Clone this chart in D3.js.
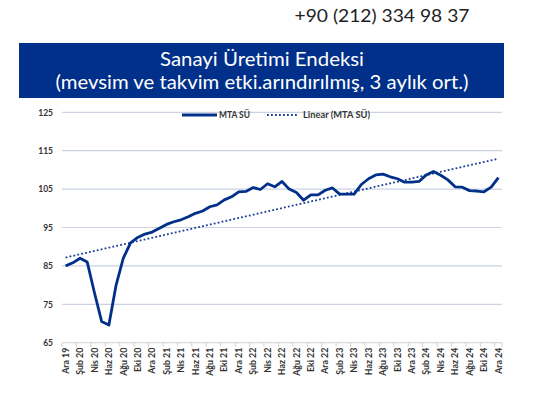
<!DOCTYPE html>
<html><head><meta charset="utf-8">
<script src="https://cdn.jsdelivr.net/npm/d3@7"></script>
<style>body{margin:0;background:#fff}svg{display:block}</style>
</head><body>
<svg id="c" width="535" height="397"></svg>
<script>
const phone = "+90 (212) 334 98 37";
const titleLines = ["Sanayi Üretimi Endeksi", "(mevsim ve takvim etki.arındırılmış, 3 aylık ort.)"];
const months = ["Oca","Şub","Mar","Nis","May","Haz","Tem","Ağu","Eyl","Eki","Kas","Ara"];
// Dec 2019 .. Dec 2024
const categories = [];
categories.push("Ara 19");
for (let y = 20; y <= 24; y++) for (const m of months) categories.push(m + " " + y);
const values = [
  85.0, 85.8, 87.0, 86.0, 78.0, 70.5, 69.6, 80.0, 87.0, 91.0,
  92.4, 93.3, 93.8, 94.8, 95.8, 96.5, 97.0, 97.8, 98.7, 99.3,
  100.4, 100.9, 102.2, 103.0, 104.3, 104.4, 105.4, 104.9, 106.4, 105.6,
  107.0, 105.0, 104.1, 102.1, 103.5, 103.5, 104.7, 105.3, 103.7, 103.7,
  103.7, 106.2, 107.7, 108.7, 108.9, 108.2, 107.7, 106.8, 106.8, 107.0,
  108.7, 109.6, 108.6, 107.4, 105.6, 105.5, 104.6, 104.5, 104.3, 105.5, 108.0
];
const yTicks = [65, 75, 85, 95, 105, 115, 125];
const seriesName = "MTA SÜ";
const trendName = "Linear (MTA SÜ)";

const svg = d3.select("#c");
const navy = "#00308a";
const font = "Lato, sans-serif";

// header
svg.append("text").attr("x", 382).attr("y", 22).attr("text-anchor", "middle")
  .attr("font-family", font).attr("font-size", 18).attr("fill", "#222")
  .attr("textLength", 175).attr("lengthAdjust", "spacingAndGlyphs")
  .text(phone);
svg.append("rect").attr("x", 19).attr("y", 43).attr("width", 485).attr("height", 55).attr("fill", navy);
const titleW = [204, 413];
svg.selectAll("text.title").data(titleLines).enter().append("text")
  .attr("class", "title").attr("x", 262).attr("y", (d, i) => 66 + i * 22.5)
  .attr("text-anchor", "middle").attr("font-family", font)
  .attr("font-size", 19).attr("fill", "#fff")
  .attr("textLength", (d, i) => titleW[i]).attr("lengthAdjust", "spacingAndGlyphs")
  .text(d => d);

// scales
const x = d3.scaleBand().domain(categories).range([62, 502]).paddingInner(0).paddingOuter(0);
const y = d3.scaleLinear().domain([65, 125]).range([342.7, 112.3]);
const cx = d => x(d) + x.bandwidth() / 2;

// gridlines
svg.append("g").selectAll("line").data(yTicks.slice(1)).enter().append("line")
  .attr("x1", 62).attr("x2", 502).attr("y1", d => y(d)).attr("y2", d => y(d))
  .attr("stroke", "#c9d1e3").attr("stroke-width", 1.2);

// y axis labels
const yAxis = d3.axisLeft(y).tickValues(yTicks).tickSize(0).tickPadding(9);
const gy = svg.append("g").attr("transform", "translate(62,0)").call(yAxis);
gy.select(".domain").remove();
gy.selectAll("text").attr("font-family", font).attr("font-size", 8.5)
  .attr("font-weight", "bold").attr("fill", "#333");

// x axis
const labeled = categories.filter((d, i) => i % 2 === 0);
const gx = svg.append("g").attr("transform", `translate(0,${y(65)})`);
gx.append("line").attr("x1", 62).attr("x2", 502).attr("stroke", "#d0d0d0").attr("stroke-width", 1);
gx.selectAll("line.tk").data(labeled.concat(["__end"])).enter().append("line").attr("class", "tk")
  .attr("x1", d => d === "__end" ? 502 : x(d)).attr("x2", d => d === "__end" ? 502 : x(d))
  .attr("y1", 0).attr("y2", 4).attr("stroke", "#d0d0d0");
gx.selectAll("text").data(labeled).enter().append("text")
  .attr("transform", d => `translate(${cx(d) + 3.2},5) rotate(-90)`)
  .attr("text-anchor", "end").attr("font-family", font).attr("font-size", 8.8)
  .attr("font-weight", "bold").attr("fill", "#333").text(d => d);

// trend line (least squares of the series, as the chart's linear trend)
const n = values.length;
const xs = d3.range(n);
const mx = d3.mean(xs), my = d3.mean(values);
const slope = d3.sum(xs, i => (i - mx) * (values[i] - my)) / d3.sum(xs, i => (i - mx) * (i - mx));
const icpt = my - slope * mx;
svg.append("line")
  .attr("x1", cx(categories[0])).attr("y1", y(icpt))
  .attr("x2", cx(categories[n - 1])).attr("y2", y(icpt + slope * (n - 1)))
  .attr("stroke", "#1a3c98").attr("stroke-width", 1.8).attr("stroke-dasharray", "1.8,2.2");

// series line
const line = d3.line().x((d, i) => cx(categories[i])).y(d => y(d));
svg.append("path").datum(values).attr("d", line).attr("fill", "none")
  .attr("stroke", navy).attr("stroke-width", 2.8).attr("stroke-linejoin", "round");

// legend
const lg = svg.append("g");
lg.append("line").attr("x1", 182).attr("x2", 217).attr("y1", 115).attr("y2", 115)
  .attr("stroke", navy).attr("stroke-width", 2.8);
lg.append("text").attr("x", 219).attr("y", 118).attr("font-family", font)
  .attr("font-size", 8.5).attr("font-weight", "bold").attr("fill", "#333")
  .attr("textLength", 31).attr("lengthAdjust", "spacingAndGlyphs").text(seriesName);
lg.append("line").attr("x1", 267).attr("x2", 297).attr("y1", 115).attr("y2", 115)
  .attr("stroke", "#1a3c98").attr("stroke-width", 1.8).attr("stroke-dasharray", "1.8,2.2");
lg.append("text").attr("x", 303).attr("y", 118).attr("font-family", font)
  .attr("font-size", 8.5).attr("font-weight", "bold").attr("fill", "#333")
  .attr("textLength", 67).attr("lengthAdjust", "spacingAndGlyphs").text(trendName);
</script>
</body></html>
